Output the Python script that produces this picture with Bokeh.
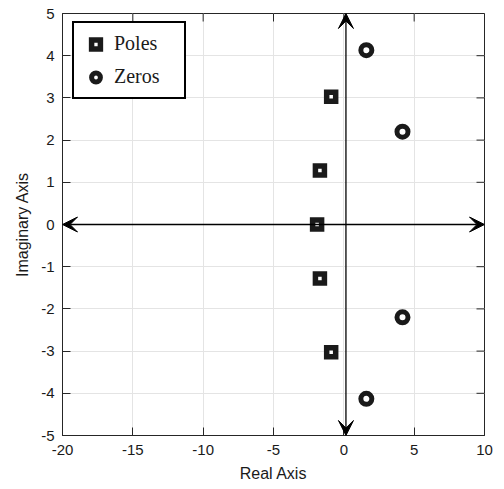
from bokeh.plotting import figure
from bokeh.models import (FixedTicker, Range1d, Legend, LegendItem, Arrow, VeeHead)
from bokeh.embed import file_html
from bokeh.resources import INLINE

# ---- data ----
pole_re = [-0.9, -1.7, -1.9, -1.7, -0.9]
pole_im = [3.03, 1.28, 0.0, -1.28, -3.03]
zero_re = [1.6, 4.17, 4.17, 1.6]
zero_im = [4.13, 2.2, -2.2, -4.13]

x_ticks = [-20, -15, -10, -5, 0, 5, 10]
x_tick_labels = ["-20", "-15", "-10", "-5", "0", "5", "10"]
y_ticks = [-5, -4, -3, -2, -1, 0, 1, 2, 3, 4, 5]
y_tick_labels = ["-5", "-4", "-3", "-2", "-1", "0", "1", "2", "3", "4", "5"]
x_range = (-20, 10)
y_range = (-5, 5)
real_axis_y = 0.0
imag_axis_x = 0.15

TXT = "#262626"
SANS = "Liberation Sans"
FRAME_W, FRAME_H = 422, 422
TICK_PX = 8

p = figure(width=504, height=489, output_backend="svg", toolbar_location=None,
           x_range=Range1d(*x_range), y_range=Range1d(*y_range),
           min_border_left=62, min_border_right=20, min_border_top=13,
           min_border_bottom=54)
p.background_fill_color = "white"
p.border_fill_color = "white"
p.outline_line_color = TXT
p.outline_line_width = 1

p.xaxis.axis_label = "Real Axis"
p.yaxis.axis_label = "Imaginary Axis"

def style_axis(ax, labels, ticks):
    ax.ticker = FixedTicker(ticks=ticks)
    ax.major_label_overrides = {t: l for t, l in zip(ticks, labels)}
    ax.major_tick_in = TICK_PX
    ax.major_tick_out = 0
    ax.minor_tick_in = 0
    ax.minor_tick_out = 0
    ax.axis_line_color = TXT
    ax.major_tick_line_color = TXT
    ax.major_label_text_font = SANS
    ax.major_label_text_font_size = "15px"
    ax.major_label_text_color = "#1a1a1a"
    ax.axis_label_text_font = SANS
    ax.axis_label_text_font_style = "normal"
    ax.axis_label_text_font_size = "16px"
    ax.axis_label_text_color = "#1a1a1a"

style_axis(p.xaxis[0], x_tick_labels, x_ticks)
style_axis(p.yaxis[0], y_tick_labels, y_ticks)
p.xaxis[0].major_label_standoff = 9
p.xaxis[0].axis_label_standoff = 7
p.yaxis[0].major_label_standoff = 8
p.yaxis[0].axis_label_standoff = 7

# inward ticks on top and right edges (box on)
dx = TICK_PX * (x_range[1] - x_range[0]) / FRAME_W
dy = TICK_PX * (y_range[1] - y_range[0]) / FRAME_H
p.segment(x0=x_ticks, x1=x_ticks, y0=[y_range[1]] * len(x_ticks),
          y1=[y_range[1] - dy] * len(x_ticks), line_color=TXT, line_width=1)
p.segment(x0=[x_range[1]] * len(y_ticks), x1=[x_range[1] - dx] * len(y_ticks),
          y0=y_ticks, y1=y_ticks, line_color=TXT, line_width=1)

p.xgrid.ticker = FixedTicker(ticks=x_ticks)
p.ygrid.ticker = FixedTicker(ticks=y_ticks)
p.grid.grid_line_color = "#e4e4e4"
p.grid.grid_line_width = 1

# axes arrows
def head():
    return VeeHead(size=15, fill_color="black", line_color="black", line_width=1)

p.add_layout(Arrow(start=head(), end=head(),
                   x_start=x_range[0], y_start=real_axis_y, x_end=x_range[1], y_end=real_axis_y,
                   line_color="black", line_width=1.3))
p.add_layout(Arrow(start=head(), end=head(),
                   x_start=imag_axis_x, y_start=y_range[0], x_end=imag_axis_x, y_end=y_range[1],
                   line_color="black", line_width=1.3))

r_poles = p.scatter(pole_re, pole_im, marker="square", size=9, line_width=5.5,
                    line_color="#1a1a1a", fill_color="white", line_join="miter")
r_zeros = p.scatter(zero_re, zero_im, marker="circle", size=11, line_width=5,
                    line_color="#1a1a1a", fill_color="white")

legend = Legend(items=[LegendItem(label="Poles", renderers=[r_poles]),
                       LegendItem(label="Zeros", renderers=[r_zeros])],
                location=(10, 336))
legend.border_line_color = "black"
legend.border_line_alpha = 1
legend.border_line_width = 2
legend.label_text_font = "Liberation Serif"
legend.label_text_font_size = "20px"
legend.label_text_color = "#1a1a1a"
legend.padding = 9
legend.spacing = 10
legend.glyph_width = 25
legend.glyph_height = 22
legend.label_standoff = 6
legend.label_width = 61
legend.margin = 0
legend.background_fill_color = "white"
legend.background_fill_alpha = 1
p.add_layout(legend, "center")

open("out.html", "w").write(file_html(p, INLINE))
